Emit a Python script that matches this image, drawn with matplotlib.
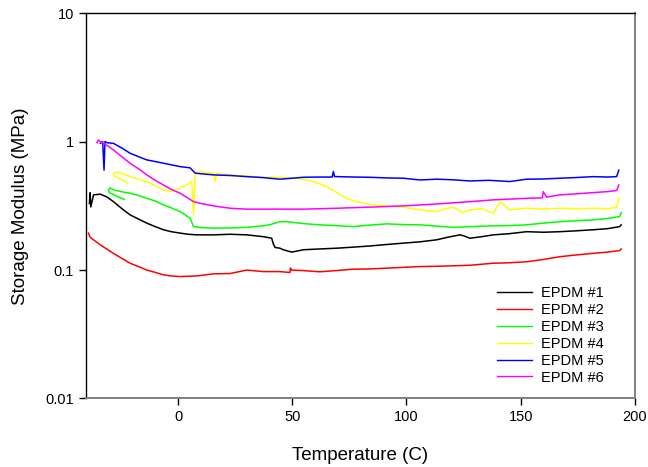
import matplotlib
matplotlib.use("Agg")
import matplotlib.pyplot as plt
from matplotlib.ticker import FixedLocator, FixedFormatter, NullLocator

plt.rcParams['font.family'] = ['Liberation Sans', 'DejaVu Sans']

# values (temperature in C, modulus in MPa)
t1 = [-38.8, -38.5, -38.2, -37.0, -34.0, -31.0, -28.3, -24.5, -21.0, -17.0, -13.7, -10.0, -6.4,
      -3.0, 0.9, 4.5, 8.2, 15.5, 22.8, 30.1, 37.3, 41.0, 41.7, 42.5, 44.6, 46.0, 49.8, 55.0,
      62.0, 69.5, 77.0, 84.0, 91.0, 98.6, 106.0, 113.2, 118.0, 123.4, 125.0, 127.8, 133.0,
      138.0, 145.0, 152.6, 160.0, 167.2, 174.0, 181.8, 188.0, 193.4, 194.0]
v1 = [0.33, 0.40, 0.31, 0.385, 0.39, 0.37, 0.341, 0.30, 0.269, 0.248, 0.232, 0.218, 0.206,
      0.199, 0.194, 0.190, 0.188, 0.188, 0.190, 0.188, 0.182, 0.177, 0.160, 0.150, 0.148, 0.144,
      0.138, 0.144, 0.146, 0.148, 0.151, 0.154, 0.158, 0.162, 0.166, 0.172, 0.180, 0.188, 0.185,
      0.177, 0.182, 0.188, 0.192, 0.199, 0.197, 0.199, 0.202, 0.206, 0.210, 0.218, 0.225]

t2 = [-39.2, -38.5, -37.0, -34.0, -31.0, -28.3, -24.5, -21.0, -17.0, -13.7, -10.0, -6.4, -3.0,
      0.9, 4.5, 8.2, 15.5, 22.8, 30.1, 37.3, 44.6, 49.0, 49.2, 49.6, 55.0, 62.0, 69.0, 76.7,
      84.0, 91.3, 98.6, 105.9, 113.2, 120.5, 127.8, 138.0, 145.0, 152.6, 160.0, 167.2, 174.0,
      181.8, 188.0, 193.4, 194.0]
v2 = [0.194, 0.18, 0.172, 0.157, 0.145, 0.135, 0.123, 0.113, 0.106, 0.100, 0.096, 0.0918, 0.090,
      0.089, 0.0895, 0.090, 0.0934, 0.094, 0.100, 0.0973, 0.0973, 0.0957, 0.104, 0.100, 0.099,
      0.097, 0.099, 0.1016, 0.102, 0.1035, 0.105, 0.1065, 0.107, 0.108, 0.109, 0.113, 0.114,
      0.116, 0.121, 0.127, 0.131, 0.135, 0.138, 0.142, 0.146]

# EPDM #3 begins with a short retrace below the main curve
t3 = [-23.5, -26.0, -28.5, -30.0, -30.5, -29.8, -28.0, -24.0, -21.0, -17.0, -13.7, -10.0, -6.4,
      -3.0, 0.9, 3.0, 5.3, 6.8, 10.0, 15.5, 22.8, 30.1, 36.0, 40.0, 44.6, 47.6, 55.0, 62.0,
      69.0, 76.7, 84.0, 91.3, 98.6, 105.9, 113.2, 120.5, 127.8, 138.0, 145.0, 152.6, 160.0,
      167.2, 174.0, 181.8, 188.0, 193.4, 194.0]
v3 = [0.355, 0.37, 0.39, 0.40, 0.42, 0.436, 0.42, 0.405, 0.397, 0.38, 0.362, 0.345, 0.322,
      0.305, 0.285, 0.27, 0.253, 0.218, 0.214, 0.212, 0.213, 0.215, 0.220, 0.225, 0.238, 0.238,
      0.230, 0.225, 0.222, 0.218, 0.224, 0.229, 0.226, 0.225, 0.220, 0.215, 0.218, 0.221,
      0.222, 0.225, 0.232, 0.238, 0.242, 0.246, 0.252, 0.261, 0.28]

# EPDM #4 also starts with a retrace
t4 = [-22.0, -25.0, -28.0, -28.3, -27.0, -24.0, -21.0, -17.0, -13.7, -10.0, -6.4, -3.5, 0.9,
      3.8, 6.0, 6.8, 7.5, 9.6, 12.0, 15.5, 16.2, 17.0, 22.8, 30.1, 37.0, 44.6, 50.0, 55.0, 59.2,
      63.0, 66.5, 70.0, 73.8, 77.0, 81.1, 86.0, 91.3, 98.6, 105.9, 113.2, 117.0, 120.5, 124.9,
      127.8, 133.0, 138.0, 141.0, 145.0, 152.6, 160.0, 167.2, 174.0, 181.8, 188.0, 192.0, 193.0]
v4 = [0.475, 0.51, 0.54, 0.56, 0.581, 0.56, 0.534, 0.51, 0.489, 0.455, 0.421, 0.408, 0.434,
      0.46, 0.489, 0.269, 0.57, 0.585, 0.575, 0.57, 0.489, 0.565, 0.551, 0.54, 0.53, 0.528,
      0.519, 0.51, 0.489, 0.462, 0.434, 0.395, 0.362, 0.345, 0.332, 0.322, 0.316, 0.309, 0.294,
      0.285, 0.30, 0.309, 0.28, 0.294, 0.300, 0.277, 0.341, 0.295, 0.303, 0.298, 0.303, 0.300,
      0.303, 0.300, 0.308, 0.36]

t5 = [-34.0, -33.0, -32.4, -32.0, -31.0, -28.3, -24.5, -21.0, -17.0, -13.7, -10.0, -6.4, -3.0,
      0.9, 5.3, 7.5, 15.5, 22.8, 30.1, 37.0, 44.6, 55.0, 62.0, 67.5, 68.0, 68.5, 69.5, 77.0,
      84.0, 91.0, 98.6, 105.9, 113.2, 120.0, 127.8, 136.0, 145.3, 152.6, 160.0, 167.2, 174.0,
      181.8, 188.0, 192.0, 193.0]
v5 = [0.97, 1.0, 0.60, 1.0, 0.98, 0.97, 0.89, 0.812, 0.76, 0.721, 0.70, 0.679, 0.66,
      0.639, 0.625, 0.568, 0.551, 0.545, 0.534, 0.525, 0.51, 0.528, 0.53, 0.53, 0.585, 0.535,
      0.534, 0.530, 0.528, 0.522, 0.519, 0.503, 0.51, 0.505, 0.494, 0.50, 0.489, 0.51, 0.512,
      0.519, 0.525, 0.534, 0.530, 0.534, 0.60]

t6 = [-35.5, -34.9, -34.0, -32.4, -28.3, -24.5, -21.0, -17.0, -13.7, -10.0, -6.4, -3.0, 0.9,
      6.8, 10.0, 15.5, 22.8, 30.1, 37.0, 44.6, 55.0, 69.5, 84.0, 98.6, 113.2, 127.8, 138.0,
      152.6, 159.5, 159.9, 161.4, 167.2, 174.0, 181.8, 188.0, 192.0, 193.0]
v6 = [0.98, 1.03, 1.0, 0.97, 0.862, 0.76, 0.679, 0.61, 0.551, 0.50, 0.46, 0.425, 0.397,
      0.341, 0.33, 0.316, 0.303, 0.298, 0.298, 0.298, 0.298, 0.303, 0.309, 0.316, 0.327,
      0.341, 0.352, 0.362, 0.365, 0.408, 0.37, 0.385, 0.392, 0.401, 0.408, 0.416, 0.46]

labels = ["EPDM #1", "EPDM #2", "EPDM #3", "EPDM #4", "EPDM #5", "EPDM #6"]
colors = ["black", "#ff0000", "#00ff00", "#ffff00", "#0000ff", "#ff00ff"]

fig = plt.figure(figsize=(6.48, 4.67), dpi=100)
ax = fig.add_axes([0.1327, 0.1467, 0.847, 0.825])

series = [(t1, v1), (t2, v2), (t3, v3), (t4, v4), (t5, v5), (t6, v6)]
for (t, v), lab, c in zip(series, labels, colors):
    ax.plot(t, v, color=c, lw=1.1, label=lab)

ax.set_yscale("log")
ax.set_xlim(-40.3, 200)
ax.set_ylim(0.01, 10)
ax.xaxis.set_major_locator(FixedLocator([0, 50, 100, 150, 200]))
ax.yaxis.set_major_locator(FixedLocator([0.01, 0.1, 1, 10]))
ax.yaxis.set_major_formatter(FixedFormatter(["0.01", "0.1", "1", "10"]))
ax.yaxis.set_minor_locator(NullLocator())
ax.tick_params(direction="out", length=5, width=1, labelsize=10.5)

for s in ["bottom", "right"]:
    ax.spines[s].set_color("#808080")
    ax.spines[s].set_linewidth(1.4)
for s in ["top", "left"]:
    ax.spines[s].set_linewidth(1.0)

ax.set_xlabel("Temperature (C)", fontsize=13.5, labelpad=16)
ax.set_ylabel("Storage Modulus (MPa)", fontsize=13.5, labelpad=12)

leg = ax.legend(loc="upper left", bbox_to_anchor=(0.749, 0.292), frameon=False,
                fontsize=10.5, handlelength=2.4, handletextpad=0.6, labelspacing=0.2,
                borderpad=0, borderaxespad=0)
for h in leg.get_lines():
    h.set_linewidth(1.0)

fig.savefig("out.png", dpi=100)
